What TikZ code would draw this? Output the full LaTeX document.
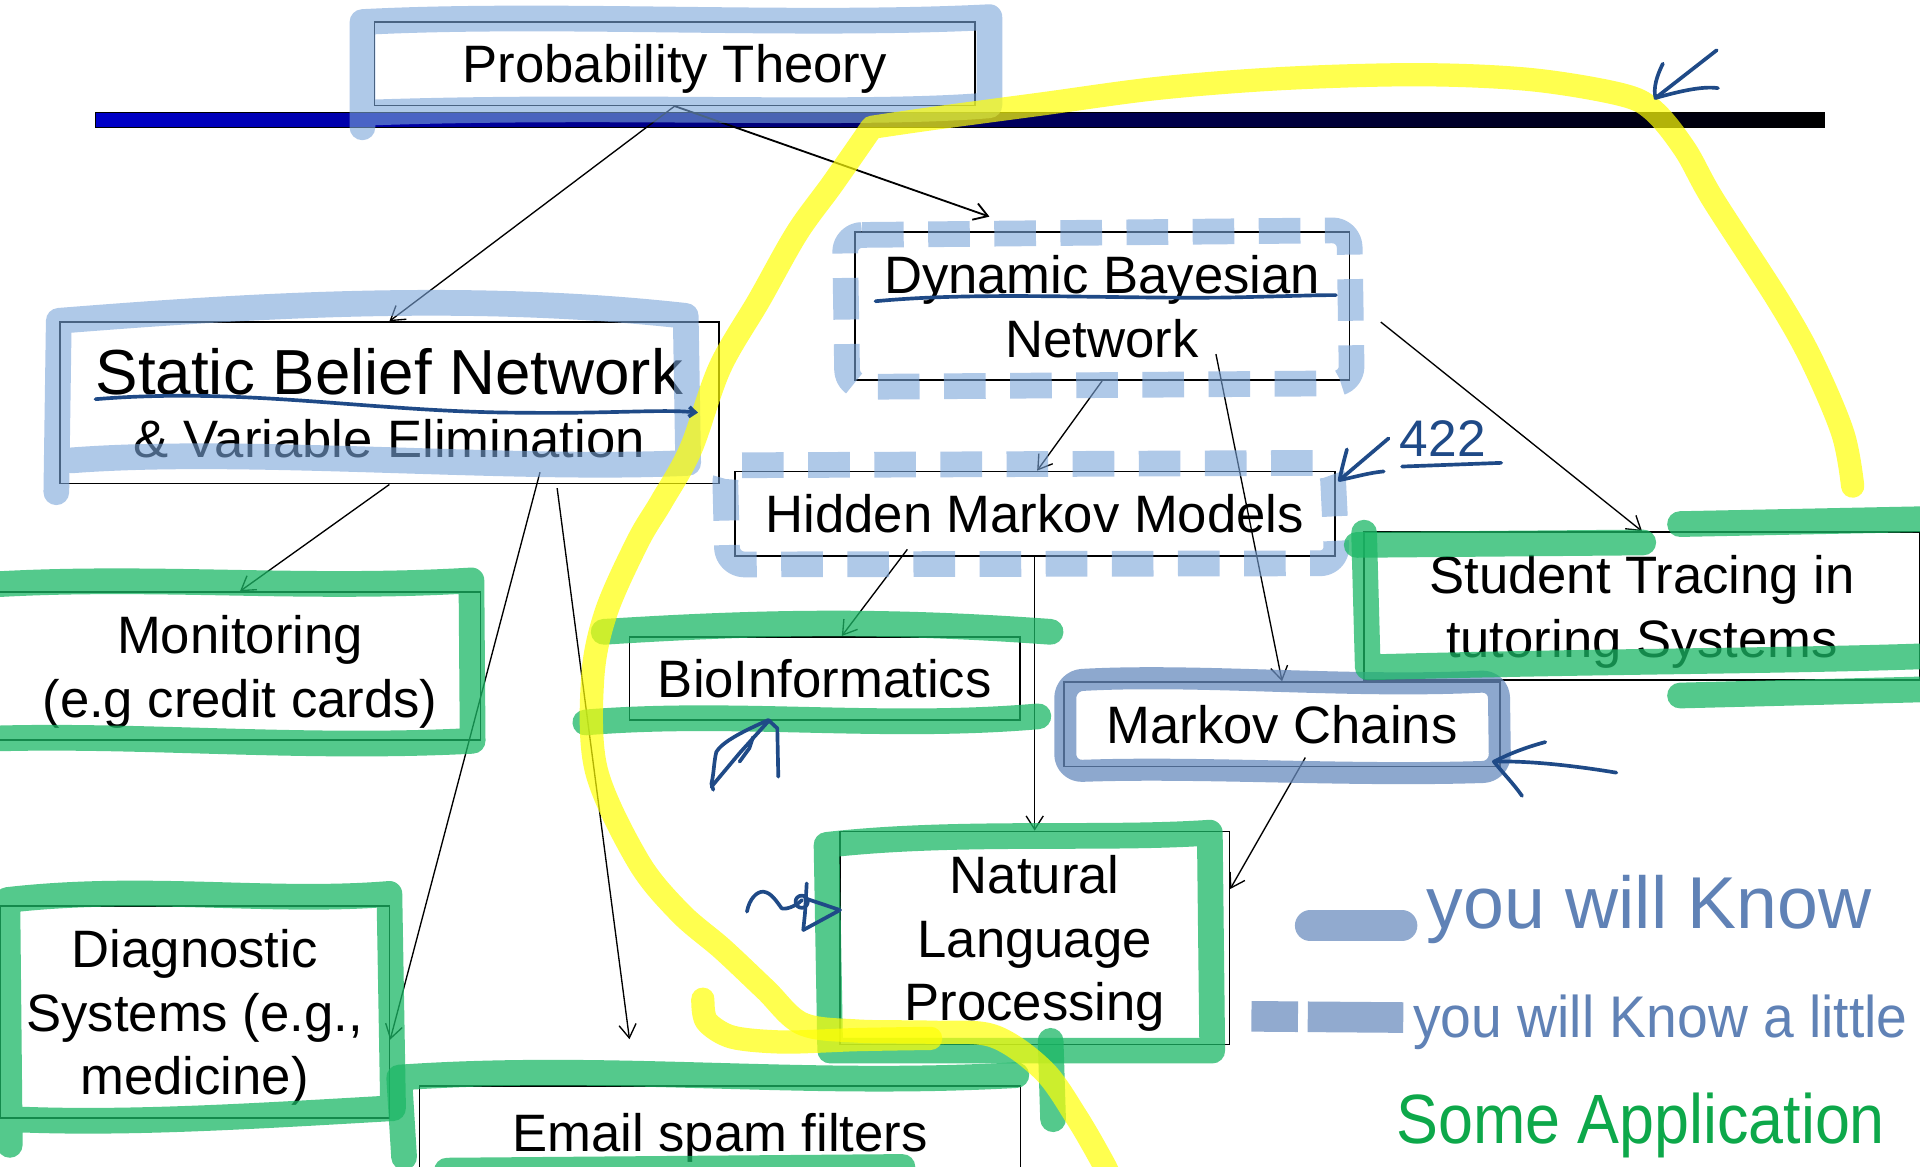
\documentclass[tikz,border=0pt]{standalone}
\usepackage{fontspec}
\setmainfont{Liberation Sans}
\usepackage{graphicx}
\usetikzlibrary{positioning,arrows.meta}
\definecolor{hlblue}{RGB}{123,165,218}
\definecolor{hlmid}{RGB}{104,139,190}
\definecolor{hlgreen}{RGB}{28,183,102}
\definecolor{hlyellow}{RGB}{255,255,5}
\definecolor{inkblue}{RGB}{31,74,135}
\definecolor{legblue}{RGB}{145,170,207}
\definecolor{legtext}{RGB}{96,130,182}
\definecolor{pengreen}{RGB}{13,168,74}
\definecolor{barblue}{RGB}{0,0,200}
\definecolor{barmid}{RGB}{0,0,110}
\tikzset{
	topic/.style={draw=black, line width=1.3pt, inner sep=0pt, text depth=0pt, align=center, font=\fontsize{43}{52}\selectfont},
	link/.style={draw=black, line width=1.1pt, -{Straight Barb[length=11pt,width=14pt]}},
	hilite/.style={draw=hlblue, draw opacity=0.6, line width=21pt, line cap=round, line join=round},
	hilitedash/.style={hilite, line cap=butt, dash pattern=on 34pt off 20pt},
	greenhl/.style={hilite, draw=hlgreen, draw opacity=0.75},
	yellowhl/.style={hilite, draw=hlyellow, draw opacity=0.7, line width=19pt},
	inkline/.style={draw=inkblue, line width=3pt, line cap=round, line join=round},
	legendmark/.style={draw=legblue, line width=25pt},
	scrawl/.style={anchor=base west, inner sep=0pt}
}
\begin{document}
\begin{tikzpicture}[x=1pt, y=-1pt, on grid]
	\useasboundingbox (0,0) rectangle (1568,953);
	\fill[white] (0,0) rectangle (1568,953);

	\draw[line width=1pt, left color=barblue, middle color=barmid, right color=black] (78,92) rectangle (1490,104);

	\node[topic, minimum width=490pt, minimum height=68pt] (prob) at (551,52) {Probability Theory};
	\node[topic, minimum width=538pt, minimum height=132pt, below left=277pt and 233pt of prob] (sbn)
		{{\fontsize{52}{58}\selectfont Static Belief Network}\\\& Variable Elimination};
	\node[topic, minimum width=404pt, minimum height=121pt, below right=198pt and 349pt of prob] (dbn) {Dynamic Bayesian\\Network};
	\node[topic, minimum width=490pt, minimum height=69pt, below left=169.5pt and 55pt of dbn] (hmm) {Hidden Markov Models};
	\node[topic, minimum width=393pt, minimum height=121pt, below left=215pt and 122pt of sbn] (mon) {Monitoring\\(e.g credit cards)};
	\node[topic, minimum width=319pt, minimum height=68pt, below left=134.5pt and 171.5pt of hmm] (bio) {BioInformatics};
	\node[topic, minimum width=454pt, minimum height=121pt, below right=245pt and 441pt of dbn] (stu) {Student Tracing in\\tutoring Systems};
	\node[topic, minimum width=356pt, minimum height=69pt, below right=172pt and 202pt of hmm] (mc) {Markov Chains};
	\node[topic, minimum width=318pt, minimum height=174pt, below=346.5pt of hmm] (nlp) {Natural\\Language\\Processing};
	\node[topic, minimum width=318pt, minimum height=173pt, below left=282.5pt and 37pt of mon] (diag) {Diagnostic\\Systems (e.g.,\\medicine)};
	\node[topic, minimum width=491pt, minimum height=76pt, below right=596pt and 270pt of sbn] (email) {Email spam filters};

	\draw[link] (prob.south) -- (sbn.north);
	\draw[link, line width=1.5pt, shorten >=36pt] (prob.south) -- ([xshift=-58pt]dbn.north);
	\draw[link] (sbn.south) -- (mon.north);
	\draw[link] ([xshift=123pt,yshift=10pt]sbn.south) -- ([yshift=-22.5pt]diag.east);
	\draw[link, shorten >=38pt] ([xshift=137pt,yshift=-3pt]sbn.south) -- ([xshift=-69pt]email.north);
	\draw[link] (dbn.south) -- ([xshift=2pt]hmm.north);
	\draw[link] ([xshift=93pt,yshift=22pt]dbn.south) -- (mc.north);
	\draw[link] ([xshift=25pt,yshift=-13pt]dbn.east) -- (stu.north);
	\draw[link] ([xshift=-104pt,yshift=6pt]hmm.south) -- ([xshift=14pt]bio.north);
	\draw[link] (hmm.south) -- (nlp.north);
	\draw[link] ([xshift=19pt,yshift=8pt]mc.south) -- ([yshift=40pt]nlp.east);

	\draw[hilite] (296,104) -- (296,18) .. controls (450,10) and (650,22) .. (808,14) -- (808,86) .. controls (700,95) and (500,85) .. (300,92);
	\draw[hilite] (46,402) -- (48,262) .. controls (200,250) and (380,238) .. (560,258) -- (562,378) .. controls (420,385) and (200,365) .. (58,376);
	\draw[hilitedash, rounded corners=14pt] (690,192) -- (1102,188) -- (1104,313) -- (692,316) -- cycle;
	\draw[hilitedash, rounded corners=14pt] (592,380) -- (1088,378) -- (1092,460) -- (594,461) -- cycle;
	\draw[hilite, draw=hlmid, draw opacity=0.75, line width=18pt, rounded corners=14pt] (870,556) .. controls (980,550) and (1100,562) .. (1224,556) -- (1225,630) .. controls (1100,634) and (980,626) .. (870,630) -- cycle;

	\draw[greenhl] (0,477) .. controls (130,470) and (250,482) .. (385,474) -- (386,605) .. controls (250,612) and (120,600) .. (0,603);
	\draw[greenhl] (493,516) .. controls (620,508) and (720,506) .. (858,516);
	\draw[greenhl] (478,590) .. controls (600,580) and (720,596) .. (848,585);
	\draw[greenhl] (1108,445) -- (1342,443);
	\draw[greenhl] (1372,428) -- (1570,424);
	\draw[greenhl] (1114,435) -- (1117,545) .. controls (1300,540) and (1450,540) .. (1570,536);
	\draw[greenhl] (1372,568) -- (1570,563);
	\draw[greenhl] (678,858) -- (675,690) .. controls (780,678) and (900,686) .. (988,680) -- (990,858) -- cycle;
	\draw[greenhl] (858,850) -- (860,914);
	\draw[greenhl] (8,935) -- (6,735) .. controls (120,722) and (220,738) .. (318,730) -- (321,905) .. controls (200,912) and (100,918) .. (10,914);
	\draw[greenhl] (330,945) -- (326,880) .. controls (500,868) and (650,888) .. (830,878);
	\draw[greenhl] (365,956) -- (737,953);

	\draw[yellowhl] plot[smooth, tension=0.55] coordinates {(1513,397) (1505,354) (1480,295) (1452,245) (1399,163) (1376,122) (1350,90) (1323,77) (1250,65) (1160,61) (1050,64) (947,72) (850,85) (760,97) (712,104)}
		-- plot[smooth, tension=0.55] coordinates {(712,104) (680,150) (651,190) (620,245) (588,300) (564,367) (540,410) (521,442) (495,500) (484,554) (487,629) (521,703) (555,745) (590,775) (625,808) (655,836) (700,842) (760,843) (811,846) (852,874) (879,912) (901,950) (908,965)};
	\draw[yellowhl] plot[smooth] coordinates {(574,816) (577,834) (598,847) (640,851) (700,849) (760,848)};

	\draw[inkline, -{Straight Barb[length=5pt,width=8pt]}] (78,326) .. controls (200,316) and (300,336) .. (420,337) .. controls (500,338) and (540,334) .. (570,337);
	\draw[inkline] (715,246) .. controls (800,238) and (900,244) .. (1000,243) .. controls (1050,242) and (1070,241) .. (1091,241);
	\draw[inkline] (1402,41) -- (1352,80);
	\draw[inkline] (1358,52) .. controls (1353,62) and (1350,72) .. (1352,80) .. controls (1370,75) and (1390,70) .. (1403,72);
	\draw[inkline] (1134,358) -- (1094,392);
	\draw[inkline] (1100,367) .. controls (1097,378) and (1095,386) .. (1094,392) .. controls (1105,390) and (1118,386) .. (1130,385);
	\node[scrawl, text=inkblue, font=\fontsize{42}{44}\selectfont] (pagenum) at (1143,373) {422};
	\draw[inkline] (1145,381) -- (1226,378);
	\draw[inkline] (635.6,634.3) -- (634.8,594.8) -- (627.5,588) .. controls (605,598) and (590,606) .. (585,614) .. controls (583,622) and (583,632) .. (581,640) -- (582.5,645);
	\draw[inkline] (627.5,589) -- (604,615) -- (581,642.5);
	\draw[inkline] (615,602) -- (612,611) -- (604,622);
	\draw[inkline] (610,744.5) .. controls (612,734) and (618,728) .. (623.4,728.2) .. controls (630,729) and (634,736) .. (638.4,741.8) .. controls (642,743) and (650,740) .. (655,735);
	\draw[inkline] (658.8,721.4) -- (657.4,745.9) -- (656,759.5);
	\draw[inkline] (657.4,733.6) -- (686,743.2) -- (656,759.5);
	\draw[inkline] (654.7,736.4) circle (5pt);
	\draw[inkline] (1320,631) .. controls (1290,626) and (1250,621) .. (1220,622);
	\draw[inkline] (1262,606) .. controls (1240,612) and (1228,618) .. (1220,622) .. controls (1228,632) and (1236,640) .. (1243,650);

	\draw[legendmark, line cap=round] (1070,756) -- (1145,756);
	\draw[legendmark, dash pattern=on 38pt off 8pt on 80pt off 8pt] (1022,830) -- (1146,831);
	\node[scrawl, text=legtext, font=\fontsize{60}{62}\selectfont] (knowtext) at (1165,758) {you will Know};
	\node[scrawl, text=legtext, font=\fontsize{48}{50}\selectfont] (littletext) at (1154,847) {\scalebox{0.94}[1]{you will Know a little}};
	\node[scrawl, text=pengreen, font=\fontsize{57}{60}\selectfont] (apptext) at (1140,934) {\scalebox{0.9}[1]{Some Application}};
\end{tikzpicture}
\end{document}
